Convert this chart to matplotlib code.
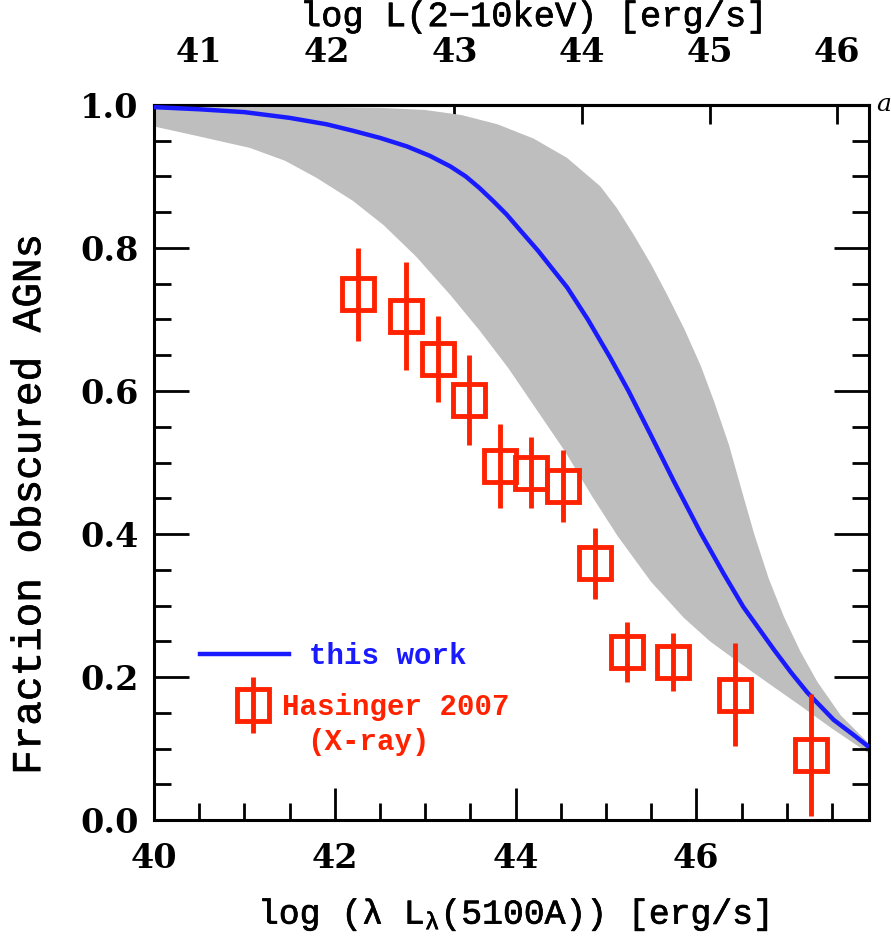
import matplotlib
matplotlib.use('Agg')
import numpy as np
import matplotlib.pyplot as plt
import matplotlib.patheffects as pe
from matplotlib.ticker import MultipleLocator, FixedLocator, FormatStrFormatter
from matplotlib.lines import Line2D
from matplotlib.container import ErrorbarContainer
from matplotlib.legend_handler import HandlerErrorbar

plt.rcParams['font.family'] = ['DejaVu Serif']
plt.rcParams['mathtext.fontset'] = 'custom'
plt.rcParams['mathtext.rm'] = 'Liberation Mono'
plt.rcParams['mathtext.it'] = 'Liberation Mono'

# model curve ("this work")
model_x = [40.0, 40.5, 41.0, 41.5, 41.91, 42.2, 42.5, 42.8, 43.05, 43.28, 43.45, 43.6, 43.75,
           43.9, 44.05, 44.25, 44.4, 44.57, 44.8, 45.05, 45.25, 45.49, 45.75, 46.05, 46.3,
           46.52, 46.86, 47.05, 47.23, 47.52, 47.75, 47.91]
model_y = [0.997, 0.994, 0.990, 0.982, 0.973, 0.964, 0.954, 0.942, 0.929, 0.914, 0.900, 0.884,
           0.866, 0.847, 0.825, 0.796, 0.772, 0.745, 0.700, 0.646, 0.600, 0.540, 0.474, 0.401,
           0.345, 0.298, 0.238, 0.206, 0.178, 0.140, 0.118, 0.102]

# shaded range
band_up_x = [40.0, 41.0, 42.0, 42.5, 43.0, 43.4, 43.8, 44.2, 44.57, 44.94, 45.12, 45.3, 45.5,
             45.68, 45.87, 46.05, 46.2, 46.36, 46.5, 46.64, 46.8, 46.97, 47.15, 47.34, 47.6,
             47.91]
band_up_y = [1.0, 0.999, 0.997, 0.996, 0.993, 0.986, 0.973, 0.953, 0.926, 0.886, 0.856, 0.820,
             0.777, 0.734, 0.686, 0.635, 0.584, 0.525, 0.462, 0.400, 0.338, 0.284, 0.236,
             0.193, 0.146, 0.107]
band_lo_x = [40.0, 40.5, 41.06, 41.45, 41.8, 42.2, 42.54, 42.9, 43.28, 43.6, 43.92, 44.2,
             44.55, 44.85, 45.13, 45.5, 45.86, 46.15, 46.41, 46.8, 47.15, 47.5, 47.91]
band_lo_y = [0.970, 0.956, 0.940, 0.922, 0.898, 0.866, 0.832, 0.788, 0.734, 0.685, 0.632,
             0.580, 0.515, 0.452, 0.397, 0.333, 0.283, 0.250, 0.226, 0.191, 0.160, 0.128,
             0.093]

# Hasinger 2007 (X-ray)
has_x = [42.26, 42.79, 43.14, 43.49, 43.83, 44.17, 44.52, 44.88, 45.23, 45.74, 46.43, 47.27]
has_y = [0.735, 0.705, 0.645, 0.587, 0.495, 0.486, 0.467, 0.359, 0.235, 0.221, 0.175, 0.091]
has_err = [0.065, 0.075, 0.060, 0.063, 0.059, 0.050, 0.050, 0.050, 0.042, 0.040, 0.072, 0.085]

top_ticks = [41, 42, 43, 44, 45, 46]

blue = '#1a1aff'
red = '#ff2200'
gray = '#bebebe'
mono = 'Liberation Mono'
thicken = [pe.withStroke(linewidth=0.5, foreground='black')]


def to_xray(x):
    return 41 + (np.asarray(x) - 40.5) / 1.412


def from_xray(t):
    return 40.5 + (np.asarray(t) - 41) * 1.412


fig = plt.figure(figsize=(8.91, 9.39), dpi=100)
ax = fig.add_axes([0.1728, 0.1267, 0.8025, 0.7615])

ax.fill(np.concatenate([band_up_x, band_lo_x[::-1]]),
        np.concatenate([band_up_y, band_lo_y[::-1]]),
        color=gray, lw=0, zorder=1)
ax.plot(model_x, model_y, color=blue, lw=3.2, zorder=3, solid_capstyle='butt')
eb = ax.errorbar(has_x, has_y, yerr=has_err, fmt='s', mfc='none', mec=red, ms=23, mew=3.5,
                 ecolor=red, elinewidth=3.5, capsize=0, zorder=4)

ax.set_xlim(40, 47.91)
ax.set_ylim(0, 1.0)

for s in ax.spines.values():
    s.set_linewidth(2.2)

ax.xaxis.set_major_locator(MultipleLocator(2))
ax.xaxis.set_minor_locator(MultipleLocator(0.5))
ax.yaxis.set_major_locator(MultipleLocator(0.2))
ax.yaxis.set_minor_locator(MultipleLocator(0.05))
ax.yaxis.set_major_formatter(FormatStrFormatter('%.1f'))
ax.tick_params(which='both', direction='in', width=2, right=True, top=False)
ax.tick_params(which='major', length=25)
ax.tick_params(which='minor', length=12.5)
ax.tick_params(axis='x', which='major', length=23, pad=16, labelsize=24)
ax.tick_params(axis='y', which='major', pad=11, labelsize=24)
for lab in ax.get_xticklabels() + ax.get_yticklabels():
    lab.set_fontweight('bold')

ax.set_xlabel(r'log (λ L$_\mathrm{λ}$(5100A)) [erg/s]', family=mono, fontsize=25,
              path_effects=thicken)
ax.xaxis.set_label_coords(0.503, -0.106)
ax.set_ylabel('Fraction obscured AGNs', family=mono, fontsize=29.5, path_effects=thicken)
ax.yaxis.set_label_coords(-0.148, 0.442)

secax = ax.secondary_xaxis('top', functions=(to_xray, from_xray))
secax.xaxis.set_major_locator(FixedLocator(top_ticks))
secax.xaxis.set_minor_locator(FixedLocator([]))
secax.tick_params(direction='in', length=14, width=2, pad=26, labelsize=24)
for lab in secax.get_xticklabels():
    lab.set_fontweight('bold')
secax.spines['top'].set_linewidth(2.2)
secax.set_xlabel('log L(2−10keV) [erg/s]', family=mono, fontsize=25.5, labelpad=7,
                 path_effects=thicken)
secax.xaxis.label.set_x(0.531)

# legend
leg_font = {'family': mono, 'size': 21, 'weight': 'bold'}
leg1 = ax.legend(handles=[Line2D([], [], color=blue, lw=3.2)], labels=['this work'],
                 loc='center left', bbox_to_anchor=(0.064, 0.229), frameon=False,
                 borderpad=0, borderaxespad=0, handlelength=3.05, handletextpad=0.69,
                 prop=leg_font)
leg1.get_texts()[0].set_color(blue)
ax.add_artist(leg1)

leg2 = ax.legend(handles=[eb], labels=['Hasinger 2007'], loc='center left',
                 bbox_to_anchor=(0.1175, 0.158), frameon=False, borderpad=0, borderaxespad=0,
                 handlelength=1.0, handletextpad=0.51, numpoints=1,
                 handler_map={ErrorbarContainer: HandlerErrorbar(yerr_size=0.95)},
                 prop=leg_font)
leg2.get_texts()[0].set_color(red)
ax.text(0.214, 0.109, '(X-ray)', transform=ax.transAxes, color=red, family=mono,
        fontsize=21, fontweight='bold', ha='left', va='center')

fig.text(0.983, 0.8882, 'a', fontsize=18, style='italic', ha='left', va='center')

fig.savefig('out.png', dpi=100)
